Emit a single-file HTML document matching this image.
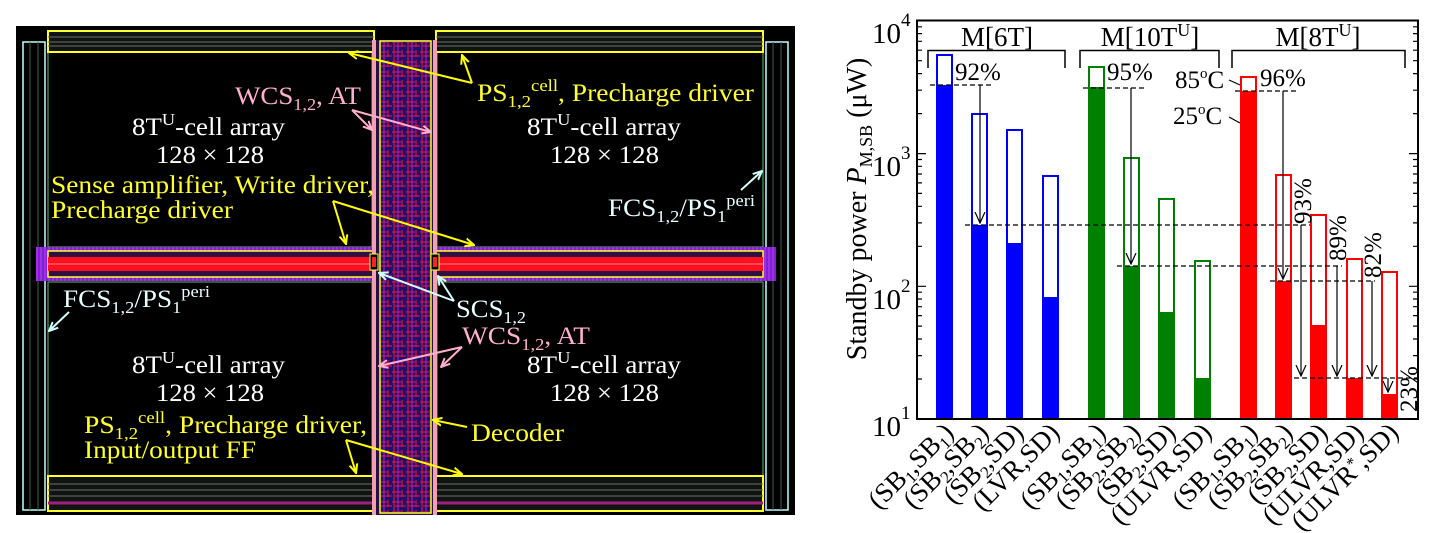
<!DOCTYPE html>
<html><head><meta charset="utf-8"><style>
html,body{margin:0;padding:0;background:#fff;}
svg{display:block;font-family:"Liberation Serif",serif;}
</style></head><body>
<svg width="1440" height="533" viewBox="0 0 1440 533" xmlns="http://www.w3.org/2000/svg">
<defs>
<pattern id="dec" width="14" height="10" patternUnits="userSpaceOnUse">
<rect width="14" height="10" fill="#1c1070"/>
<path d="M0 2H9M3 6H14M2 0V10M10 0V7" stroke="#ff1030" stroke-width="1"/>
<path d="M6 0V10" stroke="#c020c0" stroke-width="1"/>
</pattern>
<pattern id="hb" width="4" height="34" patternUnits="userSpaceOnUse">
<rect width="4" height="34" fill="#8020d0"/>
<path d="M1 0V34" stroke="#c040ff" stroke-width="1"/>
</pattern>
<marker id="ya" markerWidth="10" markerHeight="10" refX="9" refY="5" orient="auto" markerUnits="userSpaceOnUse"><path d="M0 1L9 5L0 9" fill="none" stroke="#ffff00" stroke-width="2"/></marker>
<marker id="pa" markerWidth="10" markerHeight="10" refX="9" refY="5" orient="auto" markerUnits="userSpaceOnUse"><path d="M0 1L9 5L0 9" fill="none" stroke="#ffb0d0" stroke-width="2"/></marker>
<marker id="ca" markerWidth="10" markerHeight="10" refX="9" refY="5" orient="auto" markerUnits="userSpaceOnUse"><path d="M0 1L9 5L0 9" fill="none" stroke="#d0ffff" stroke-width="2"/></marker>
<marker id="ka" markerWidth="12" markerHeight="12" refX="11" refY="6" orient="auto" markerUnits="userSpaceOnUse"><path d="M0 1L11 6L0 11" fill="none" stroke="#000" stroke-width="1.2"/></marker>
</defs>

<!-- ===== Layout image ===== -->
<rect x="16" y="26" width="779" height="489" fill="#000"/>
<rect x="23" y="42" width="22" height="468" fill="none" stroke="#c0ffff" stroke-width="1.5"/>
<rect x="766" y="42" width="22" height="468" fill="none" stroke="#c0ffff" stroke-width="1.5"/>
<path d="M30 42V510M38 42V510M773 42V510M781 42V510" stroke="#406050" stroke-width="1"/>
<rect x="48" y="52" width="324" height="195" fill="none" stroke="#60c060" stroke-width="1"/>
<rect x="437" y="52" width="326" height="195" fill="none" stroke="#60c060" stroke-width="1"/>
<rect x="48" y="282" width="324" height="194" fill="none" stroke="#60c060" stroke-width="1"/>
<rect x="437" y="282" width="326" height="194" fill="none" stroke="#60c060" stroke-width="1"/>
<g stroke-width="1">
<rect x="48" y="31" width="326" height="21" fill="#101410" stroke="#ffff30" stroke-width="2"/>
<rect x="436" y="31" width="327" height="21" fill="#101410" stroke="#ffff30" stroke-width="2"/>
<path d="M48 37H374M48 42H374M48 46H374M436 37H763M436 42H763M436 46H763" stroke="#707070"/>
<rect x="48" y="476" width="326" height="35" fill="#101410" stroke="#ffff30" stroke-width="2"/>
<rect x="436" y="476" width="327" height="35" fill="#101410" stroke="#ffff30" stroke-width="2"/>
<path d="M48 484H374M48 490H374M48 496H374M436 484H763M436 490H763M436 496H763" stroke="#707070"/>
<path d="M48 503H374M436 503H763" stroke="#a02080" stroke-width="3"/>
</g>
<rect x="36" y="247" width="740" height="34" fill="url(#hb)"/>
<rect x="48" y="251" width="326" height="26" fill="#301040" stroke="#ffff30" stroke-width="1.5"/>
<rect x="436" y="251" width="327" height="26" fill="#301040" stroke="#ffff30" stroke-width="1.5"/>
<rect x="48" y="257" width="326" height="14" fill="#ff1020"/>
<rect x="436" y="257" width="327" height="14" fill="#ff1020"/>
<path d="M48 264H374M436 264H763" stroke="#ff8080" stroke-width="1"/>
<rect x="372" y="40" width="65" height="475" fill="#f0a0b0"/>
<rect x="376" y="40" width="57" height="475" fill="#2a1040"/>
<rect x="381" y="42" width="49" height="470" fill="url(#dec)"/>
<rect x="380" y="41" width="51" height="472" fill="none" stroke="#ffff30" stroke-width="1.5"/>
<rect x="370" y="254" width="8" height="16" fill="#000" stroke="#ffff30"/>
<rect x="431" y="254" width="8" height="16" fill="#000" stroke="#ffff30"/>
<rect x="372" y="257" width="4" height="10" fill="#ff2020"/>
<rect x="433" y="257" width="4" height="10" fill="#ff2020"/>

<g fill="none" stroke-width="2">
<path d="M472 83L349 53" stroke="#ffff00" marker-end="url(#ya)"/>
<path d="M472 83L462 55" stroke="#ffff00" marker-end="url(#ya)"/>
<path d="M352 110L372 130" stroke="#ffb0d0" marker-end="url(#pa)"/>
<path d="M352 110L431 132" stroke="#ffb0d0" marker-end="url(#pa)"/>
<path d="M333 201L346 244" stroke="#ffff00" marker-end="url(#ya)"/>
<path d="M333 201L474 245" stroke="#ffff00" marker-end="url(#ya)"/>
<path d="M741 190L762 171" stroke="#d0ffff" marker-end="url(#ca)"/>
<path d="M69 312L49 331" stroke="#d0ffff" marker-end="url(#ca)"/>
<path d="M454 301L379 273" stroke="#d0ffff" marker-end="url(#ca)"/>
<path d="M454 301L438 276" stroke="#d0ffff" marker-end="url(#ca)"/>
<path d="M462 347L379 366" stroke="#ffb0d0" marker-end="url(#pa)"/>
<path d="M462 347L441 367" stroke="#ffb0d0" marker-end="url(#pa)"/>
<path d="M467 427L433 420" stroke="#ffff00" marker-end="url(#ya)"/>
<path d="M346 440L356 473" stroke="#ffff00" marker-end="url(#ya)"/>
<path d="M346 440L462 474" stroke="#ffff00" marker-end="url(#ya)"/>
</g>

<g font-size="25" lengthAdjust="spacingAndGlyphs">
<text x="235" y="104" fill="#ffb0d0" textLength="126" lengthAdjust="spacingAndGlyphs">WCS<tspan font-size="17" dy="6">1,2</tspan><tspan dy="-6">, AT</tspan></text>
<text x="477" y="101" fill="#ffff30" textLength="277" lengthAdjust="spacingAndGlyphs">PS<tspan font-size="17" dy="6">1,2</tspan><tspan font-size="17" dy="-16">cell</tspan><tspan dy="10">, Precharge driver</tspan></text>
<text x="132" y="135" fill="#fff" textLength="153" lengthAdjust="spacingAndGlyphs">8T<tspan font-size="17" dy="-10">U</tspan><tspan dy="10">-cell array</tspan></text>
<text x="527" y="135" fill="#fff" textLength="154" lengthAdjust="spacingAndGlyphs">8T<tspan font-size="17" dy="-10">U</tspan><tspan dy="10">-cell array</tspan></text>
<text x="156" y="163" fill="#fff" textLength="108" lengthAdjust="spacingAndGlyphs">128 × 128</text>
<text x="550" y="163" fill="#fff" textLength="109" lengthAdjust="spacingAndGlyphs">128 × 128</text>
<text x="51" y="193" fill="#ffff30" textLength="323" lengthAdjust="spacingAndGlyphs">Sense amplifier, Write driver,</text>
<text x="51" y="218" fill="#ffff30" textLength="182" lengthAdjust="spacingAndGlyphs">Precharge driver</text>
<text x="608" y="216" fill="#e8ffff" textLength="147" lengthAdjust="spacingAndGlyphs">FCS<tspan font-size="17" dy="6">1,2</tspan><tspan dy="-6">/PS</tspan><tspan font-size="17" dy="6">1</tspan><tspan font-size="17" dy="-16">peri</tspan></text>
<text x="63" y="307" fill="#e8ffff" textLength="147" lengthAdjust="spacingAndGlyphs">FCS<tspan font-size="17" dy="6">1,2</tspan><tspan dy="-6">/PS</tspan><tspan font-size="17" dy="6">1</tspan><tspan font-size="17" dy="-16">peri</tspan></text>
<text x="456" y="317" fill="#e8ffff" textLength="70" lengthAdjust="spacingAndGlyphs">SCS<tspan font-size="17" dy="6">1,2</tspan></text>
<text x="462" y="344" fill="#ffb0d0" textLength="128" lengthAdjust="spacingAndGlyphs">WCS<tspan font-size="17" dy="6">1,2</tspan><tspan dy="-6">, AT</tspan></text>
<text x="132" y="373" fill="#fff" textLength="153" lengthAdjust="spacingAndGlyphs">8T<tspan font-size="17" dy="-10">U</tspan><tspan dy="10">-cell array</tspan></text>
<text x="527" y="373" fill="#fff" textLength="154" lengthAdjust="spacingAndGlyphs">8T<tspan font-size="17" dy="-10">U</tspan><tspan dy="10">-cell array</tspan></text>
<text x="156" y="401" fill="#fff" textLength="108" lengthAdjust="spacingAndGlyphs">128 × 128</text>
<text x="550" y="401" fill="#fff" textLength="109" lengthAdjust="spacingAndGlyphs">128 × 128</text>
<text x="84" y="433" fill="#ffff30" textLength="283" lengthAdjust="spacingAndGlyphs">PS<tspan font-size="17" dy="6">1,2</tspan><tspan font-size="17" dy="-16">cell</tspan><tspan dy="10">, Precharge driver,</tspan></text>
<text x="84" y="458" fill="#ffff30" textLength="172" lengthAdjust="spacingAndGlyphs">Input/output FF</text>
<text x="471" y="441" fill="#ffff30" textLength="93" lengthAdjust="spacingAndGlyphs">Decoder</text>
</g>

<!-- ===== Chart ===== -->
<g stroke-width="2" fill="none">
<rect x="937" y="55" width="15" height="364" stroke="#0000ff"/>
<rect x="972" y="114" width="15" height="305" stroke="#0000ff"/>
<rect x="1007" y="130" width="15" height="289" stroke="#0000ff"/>
<rect x="1043" y="176" width="15" height="243" stroke="#0000ff"/>
<rect x="1089" y="67" width="15" height="352" stroke="#008000"/>
<rect x="1124" y="158" width="15" height="261" stroke="#008000"/>
<rect x="1159" y="199" width="15" height="220" stroke="#008000"/>
<rect x="1195" y="261" width="15" height="158" stroke="#008000"/>
<rect x="1241" y="77" width="15" height="342" stroke="#ff0000"/>
<rect x="1276" y="175" width="15" height="244" stroke="#ff0000"/>
<rect x="1311" y="215" width="15" height="204" stroke="#ff0000"/>
<rect x="1347" y="259" width="15" height="160" stroke="#ff0000"/>
<rect x="1382" y="272" width="15" height="147" stroke="#ff0000"/>
</g>
<g>
<rect x="936" y="85" width="17" height="334" fill="#0000ff"/>
<rect x="971" y="225" width="17" height="194" fill="#0000ff"/>
<rect x="1006" y="243" width="17" height="176" fill="#0000ff"/>
<rect x="1042" y="297" width="17" height="122" fill="#0000ff"/>
<rect x="1088" y="87" width="17" height="332" fill="#008000"/>
<rect x="1123" y="266" width="17" height="153" fill="#008000"/>
<rect x="1158" y="312" width="17" height="107" fill="#008000"/>
<rect x="1194" y="378" width="17" height="41" fill="#008000"/>
<rect x="1240" y="91" width="17" height="328" fill="#ff0000"/>
<rect x="1275" y="281" width="17" height="138" fill="#ff0000"/>
<rect x="1310" y="325" width="17" height="94" fill="#ff0000"/>
<rect x="1346" y="378" width="17" height="41" fill="#ff0000"/>
<rect x="1381" y="394" width="17" height="25" fill="#ff0000"/>
</g>
<g stroke="#000" stroke-width="1.3" stroke-dasharray="5,3">
<path d="M930 85H992M965 225H1310M1117 266H1342M1083 88H1147M1235 91H1298M1270 281H1375M1294 378H1417"/>
</g>
<g stroke="#000" stroke-width="1.2" fill="none">
<path d="M980 85V223" marker-end="url(#ka)"/>
<path d="M1131 88V264" marker-end="url(#ka)"/>
<path d="M1283 91V279" marker-end="url(#ka)"/>
<path d="M1301 225V376" marker-end="url(#ka)"/>
<path d="M1337 266V376" marker-end="url(#ka)"/>
<path d="M1372 281V376" marker-end="url(#ka)"/>
<path d="M1388 378V392" marker-end="url(#ka)"/>
<path d="M1229 80L1240 85M1229 117L1240 123"/>
</g>
<rect x="917" y="20.5" width="501" height="398.5" fill="none" stroke="#000" stroke-width="2"/>
<g stroke="#000" stroke-width="1.2">
<path d="M917 153.6h9M917 286.3h9M1418 153.6h-9M1418 286.3h-9"/>
<path id="mt" d="M917 379.0h5M917 355.6h5M917 339.0h5M917 326.1h5M917 315.6h5M917 306.7h5M917 299.0h5M917 292.2h5"/>
<use href="#mt" y="-132.7"/><use href="#mt" y="-265.4"/>
<path id="mtr" d="M1418 379.0h-5M1418 355.6h-5M1418 339.0h-5M1418 326.1h-5M1418 315.6h-5M1418 306.7h-5M1418 299.0h-5M1418 292.2h-5"/>
<use href="#mtr" y="-132.7"/><use href="#mtr" y="-265.4"/>
</g>
<g stroke="#000" stroke-width="1.5" fill="none">
<path d="M928 68V50.5H1065V68M1080 68V50.5H1219V68M1232 68V50.5H1405V68"/>
</g>
<g font-size="27" fill="#000">
<text x="997" y="46" text-anchor="middle">M[6T]</text>
<text x="1150" y="46" text-anchor="middle">M[10T<tspan font-size="18" dy="-10">U</tspan><tspan dy="10">]</tspan></text>
<text x="1318" y="46" text-anchor="middle">M[8T<tspan font-size="18" dy="-10">U</tspan><tspan dy="10">]</tspan></text>
</g>
<g font-size="25" fill="#000">
<text x="955" y="80">92%</text>
<text x="1107" y="80">95%</text>
<text x="1260" y="86">96%</text>
<text x="1175" y="88">85<tspan font-size="15" dy="-10">o</tspan><tspan dy="10">C</tspan></text>
<text x="1173" y="124">25<tspan font-size="15" dy="-10">o</tspan><tspan dy="10">C</tspan></text>
<text transform="translate(1311,224) rotate(-90)">93%</text>
<text transform="translate(1346,261) rotate(-90)">89%</text>
<text transform="translate(1381,278) rotate(-90)">82%</text>
<text transform="translate(1417,412) rotate(-90)">23%</text>
</g>
<g font-size="29" fill="#000">
<text x="872" y="43">10<tspan font-size="19" dy="-17">4</tspan></text>
<text x="872" y="176">10<tspan font-size="19" dy="-17">3</tspan></text>
<text x="872" y="309">10<tspan font-size="19" dy="-17">2</tspan></text>
<text x="872" y="436">10<tspan font-size="19" dy="-17">1</tspan></text>
</g>
<text transform="translate(866,209) rotate(-90)" font-size="28" text-anchor="middle">Standby power <tspan font-style="italic">P</tspan><tspan font-size="18" dy="6">M,SB</tspan><tspan dy="-6"> (μW)</tspan></text>
<g font-size="27" fill="#000" text-anchor="end">
<text transform="translate(955,434) rotate(-45)">(SB<tspan font-size="17" dy="5">1</tspan><tspan dy="-5">,SB</tspan><tspan font-size="17" dy="5">1</tspan><tspan dy="-5">)</tspan></text>
<text transform="translate(990,434) rotate(-45)">(SB<tspan font-size="17" dy="5">2</tspan><tspan dy="-5">,SB</tspan><tspan font-size="17" dy="5">2</tspan><tspan dy="-5">)</tspan></text>
<text transform="translate(1025,434) rotate(-45)">(SB<tspan font-size="17" dy="5">2</tspan><tspan dy="-5">,SD)</tspan></text>
<text transform="translate(1061,434) rotate(-45)">(LVR,SD)</text>
<text transform="translate(1107,434) rotate(-45)">(SB<tspan font-size="17" dy="5">1</tspan><tspan dy="-5">,SB</tspan><tspan font-size="17" dy="5">1</tspan><tspan dy="-5">)</tspan></text>
<text transform="translate(1142,434) rotate(-45)">(SB<tspan font-size="17" dy="5">2</tspan><tspan dy="-5">,SB</tspan><tspan font-size="17" dy="5">2</tspan><tspan dy="-5">)</tspan></text>
<text transform="translate(1177,434) rotate(-45)">(SB<tspan font-size="17" dy="5">2</tspan><tspan dy="-5">,SD)</tspan></text>
<text transform="translate(1213,434) rotate(-45)">(ULVR,SD)</text>
<text transform="translate(1259,434) rotate(-45)">(SB<tspan font-size="17" dy="5">1</tspan><tspan dy="-5">,SB</tspan><tspan font-size="17" dy="5">1</tspan><tspan dy="-5">)</tspan></text>
<text transform="translate(1294,434) rotate(-45)">(SB<tspan font-size="17" dy="5">2</tspan><tspan dy="-5">,SB</tspan><tspan font-size="17" dy="5">2</tspan><tspan dy="-5">)</tspan></text>
<text transform="translate(1329,434) rotate(-45)">(SB<tspan font-size="17" dy="5">2</tspan><tspan dy="-5">,SD)</tspan></text>
<text transform="translate(1365,434) rotate(-45)">(ULVR,SD)</text>
<text transform="translate(1400,434) rotate(-45)">(ULVR<tspan font-size="17" dy="-8">*</tspan><tspan dy="8">,SD)</tspan></text>
</g>
</svg>
</body></html>
